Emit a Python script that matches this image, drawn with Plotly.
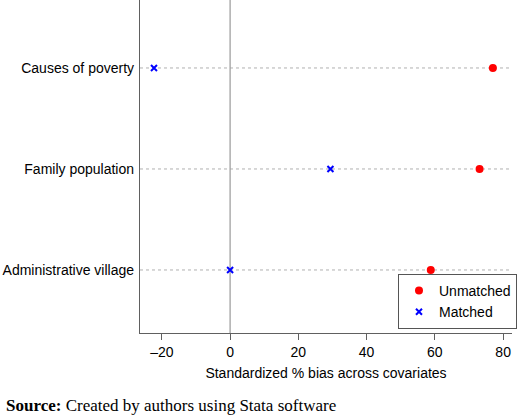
import plotly.graph_objects as go

categories = ["Administrative village", "Family population", "Causes of poverty"]
unmatched = [58.8, 73.1, 77.0]
matched = [0.0, 29.4, -22.3]
x_ticks = [-20, 0, 20, 40, 60, 80]
x_tick_text = ["\u201320", "0", "20", "40", "60", "80"]

ypos = list(range(1, len(categories) + 1))

fig = go.Figure()
fig.add_trace(go.Scatter(
    x=unmatched, y=ypos, mode="markers", name="Unmatched",
    marker=dict(symbol="circle", size=8, color="#ff0000"),
))
fig.add_trace(go.Scatter(
    x=matched, y=ypos, mode="markers", name="Matched",
    marker=dict(symbol="x-thin", size=6, color="#0000ff",
                line=dict(width=2, color="#0000ff")),
))

for y in ypos:
    fig.add_shape(type="line", xref="paper", x0=0, x1=1, yref="y", y0=y, y1=y,
                  line=dict(color="#b0b0b0", width=1, dash="dot"), layer="below")
fig.add_shape(type="line", xref="x", x0=0, x1=0, yref="paper", y0=0, y1=1,
              line=dict(color="#a0a0a0", width=1.3), layer="below")

fig.update_layout(
    width=520, height=419,
    margin=dict(l=140, r=8, t=0, b=86),
    paper_bgcolor="white", plot_bgcolor="white",
    font=dict(family="Liberation Sans, Arial", size=14, color="#000"),
    showlegend=True,
    legend=dict(x=1.0134, xanchor="right", y=0.012, yanchor="bottom",
                bordercolor="#555555", borderwidth=1, bgcolor="white",
                font=dict(size=14), itemwidth=30, tracegroupgap=0),
    xaxis=dict(range=[-26.4, 82.6], tickvals=x_ticks, ticktext=x_tick_text,
               showgrid=False, zeroline=False,
               showline=True, linecolor="#606060", linewidth=1.3,
               ticks="outside", ticklen=6, tickcolor="#606060",
               tickfont=dict(size=14),
               title=dict(text="Standardized % bias across covariates", font=dict(size=14), standoff=9)),
    yaxis=dict(range=[0.376, 3.673], tickvals=ypos, ticktext=categories,
               showgrid=False, zeroline=False, showline=True, linecolor="#606060",
               linewidth=1.3, ticks="", ticklabelstandoff=2, tickfont=dict(size=14)),
)

fig.add_annotation(
    text="<b>Source:</b> Created by authors using Stata software",
    xref="paper", yref="paper", x=(4 - 140) / 372, y=-(405 - 333) / 333,
    xanchor="left", yanchor="middle", showarrow=False,
    font=dict(family="Liberation Serif, Times New Roman", size=17, color="#000"),
)

fig.write_html("out.html")
